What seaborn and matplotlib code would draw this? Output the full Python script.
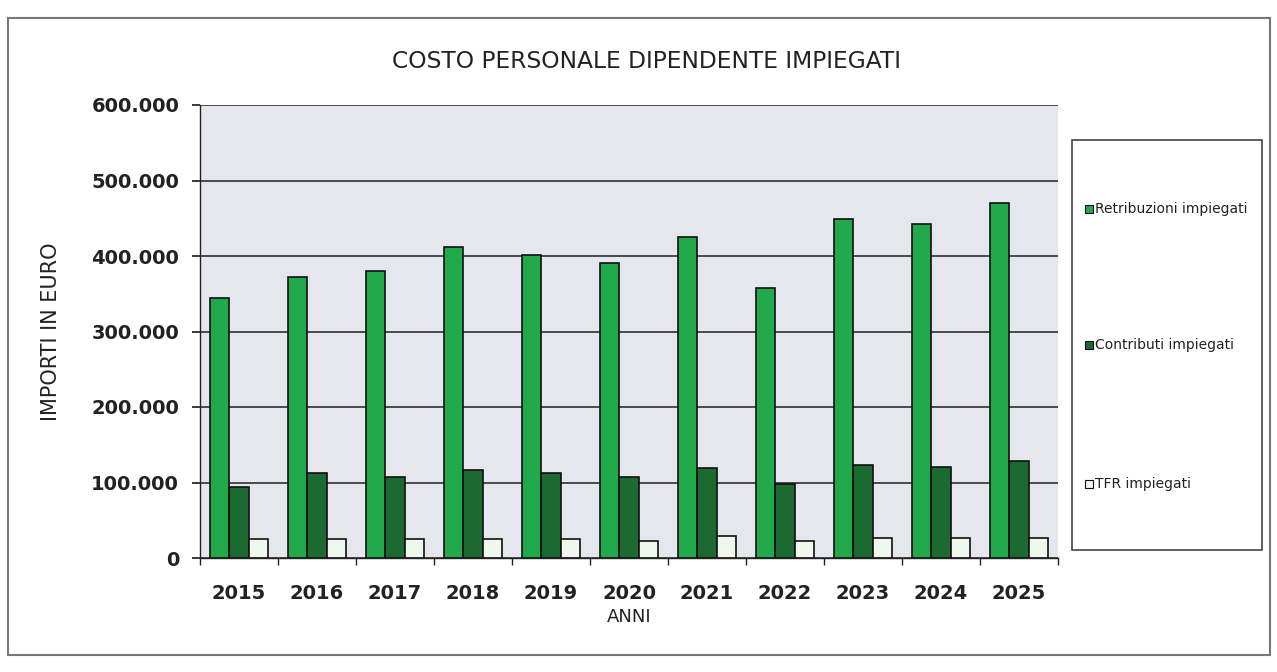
import numpy as np
import pandas as pd
import matplotlib
matplotlib.use("Agg")
import matplotlib.pyplot as plt
import seaborn as sns
from matplotlib.patches import Rectangle
from matplotlib.ticker import FuncFormatter, FixedLocator

years = ["2015", "2016", "2017", "2018", "2019", "2020", "2021", "2022", "2023", "2024", "2025"]
retribuzioni = [344000, 372000, 380000, 412000, 401000, 391000, 425000, 358000, 449000, 442000, 470000]
contributi = [94000, 113000, 107000, 116000, 112000, 107000, 119000, 98000, 123000, 120000, 128000]
tfr = [25000, 25000, 25000, 25000, 25000, 23000, 29000, 22000, 26000, 26000, 26000]
series_names = ["Retribuzioni impiegati", "Contributi impiegati", "TFR impiegati"]
colors = ["#22a94c", "#1c6a32", "#eef8ec"]

df = pd.DataFrame({
    "anno": years * 3,
    "valore": retribuzioni + contributi + tfr,
    "serie": [series_names[0]] * 11 + [series_names[1]] * 11 + [series_names[2]] * 11,
})

sns.set_theme(style="white")
plt.rcParams["font.family"] = ["DejaVu Sans"]

fig = plt.figure(figsize=(12.77, 6.72), dpi=100)
ax = fig.add_axes([200/1277, 1-558/672, 858/1277, 453/672])
ax.set_facecolor("#e6e6ee")

sns.barplot(data=df, x="anno", y="valore", hue="serie", palette=colors, saturation=1,
            width=0.74, ax=ax, edgecolor="#111111", linewidth=1.2, legend=False)

ax.set_ylim(0, 600000)
ax.set_xlim(-0.5, 10.5)
ax.yaxis.set_major_locator(FixedLocator(np.arange(0, 600001, 100000)))
ax.yaxis.set_major_formatter(FuncFormatter(lambda v, p: f"{int(v):,}".replace(",", ".")))
ax.grid(axis="y", color="#4a4a4a", linewidth=1.4)
ax.set_axisbelow(True)
for s in ["top", "right"]:
    ax.spines[s].set_visible(False)
for s in ["left", "bottom"]:
    ax.spines[s].set_color("#222222")
    ax.spines[s].set_linewidth(1.0)

ax.tick_params(axis="y", left=True, length=6, color="#222222", labelsize=14, pad=9, labelcolor="#222222")
for lab in ax.get_yticklabels():
    lab.set_fontweight("bold")
ax.set_xticks(np.arange(11))
ax.set_xticklabels(years, fontsize=14, fontweight="bold", color="#222222")
ax.tick_params(axis="x", bottom=False, pad=13)
ax.set_xticks(np.arange(-0.5, 11, 1), minor=True)
ax.tick_params(axis="x", which="minor", bottom=True, length=5, color="#222222")

ax.set_xlabel("ANNI", fontsize=13, labelpad=3, color="#222222")
ax.set_ylabel("IMPORTI IN EURO", fontsize=15, labelpad=22, color="#222222")

fig.text(0.506, 1-62/672, "COSTO PERSONALE DIPENDENTE IMPIEGATI", ha="center", va="center",
         fontsize=16.8, color="#222222")

# outer chart border
fig.patches.append(Rectangle((8/1277, 1-655/672), 1262/1277, 637/672, transform=fig.transFigure,
                             fill=False, edgecolor="#777777", linewidth=1.5))

# legend box
fig.patches.append(Rectangle((1072/1277, 1-550/672), 190/1277, 410/672, transform=fig.transFigure,
                             fill=False, edgecolor="#444444", linewidth=1.2))
leg_y = [209, 345, 484]
for name, col, yy in zip(series_names, colors, leg_y):
    fig.patches.append(Rectangle((1085/1277, 1-(yy+4)/672), 8/1277, 8/672, transform=fig.transFigure,
                                 facecolor=col, edgecolor="#111111", linewidth=0.8))
    fig.text(1095/1277, 1-yy/672, name, ha="left", va="center", fontsize=10, color="#222222")

fig.savefig("out.png", dpi=100, facecolor="white")
